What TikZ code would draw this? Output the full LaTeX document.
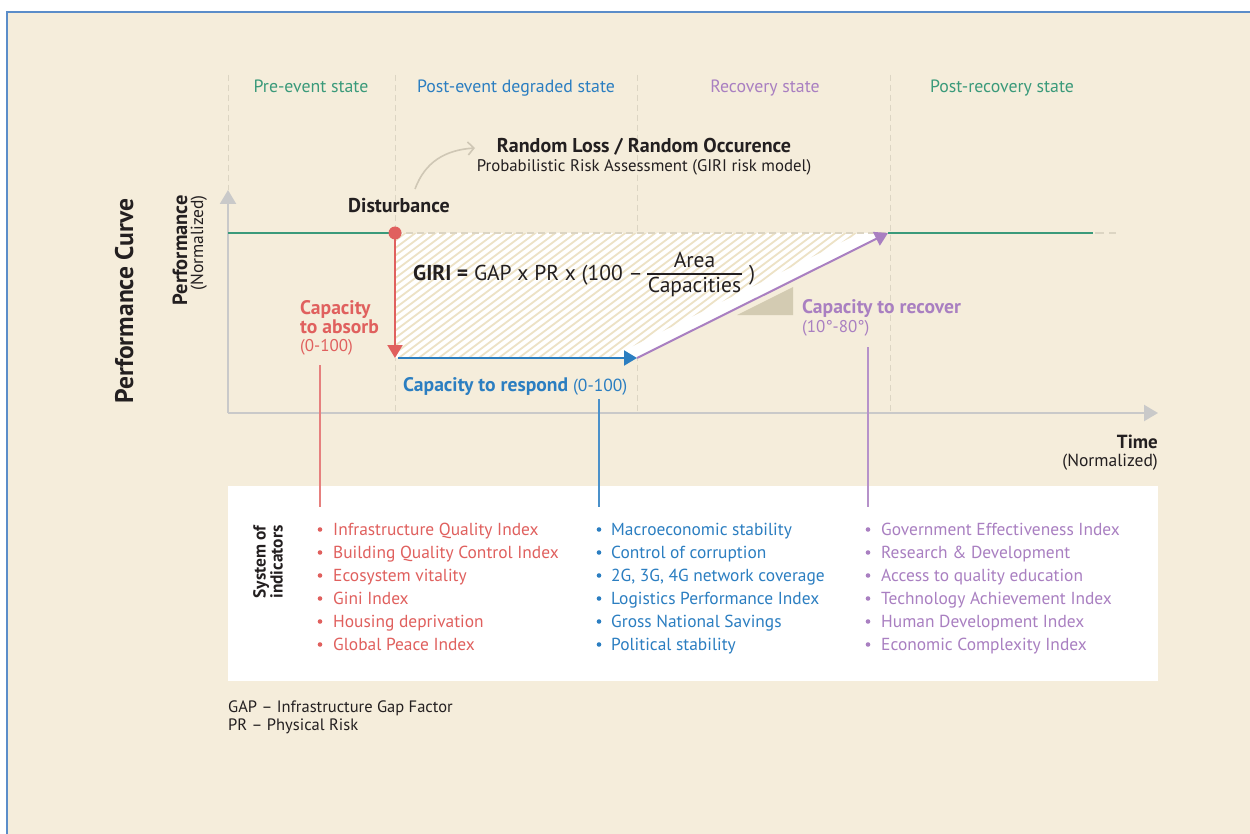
\documentclass[tikz,border=0pt]{standalone}
\usepackage{fontspec}
\setmainfont{PT Sans}
\usetikzlibrary{arrows.meta}
\definecolor{bg}{HTML}{F5EDDB}
\definecolor{frame}{HTML}{5B8DC9}
\definecolor{grn}{HTML}{3A9A7A}
\definecolor{blu}{HTML}{2B7EC1}
\definecolor{rd}{HTML}{E0605E}
\definecolor{pur}{HTML}{A97FC1}
\definecolor{axisc}{HTML}{C9C9C9}
\definecolor{dsh}{HTML}{DCD5C3}
\definecolor{txt}{HTML}{231F20}
\definecolor{hatchc}{HTML}{EDE2C6}
\definecolor{tric}{HTML}{D3CBB2}
\definecolor{curvec}{HTML}{CFC7B5}
\tikzset{
  phase/.style={anchor=base, font=\fontsize{17.8}{20}\selectfont},
  item/.style={anchor=base west, inner sep=0pt, font=\fontsize{17.4}{20}\selectfont},
  lbl/.style={anchor=base west, inner sep=0pt, font=\fontsize{19.6}{22}\selectfont\bfseries},
  sub/.style={anchor=base west, inner sep=0pt, font=\fontsize{17}{20}\selectfont},
  phasesep/.style={dsh, line width=1, dash pattern=on 6pt off 4pt},
  grnline/.style={grn, line width=2.5},
  leader/.style={line width=1.2},
  capa/.style={line width=2, -{Triangle[length=13pt,width=15pt]}},
  axisline/.style={axisc, line width=2.2, -{Triangle[length=14pt,width=16pt]}},
}
\begin{document}
\begin{tikzpicture}[x=1pt,y=-1pt]
\useasboundingbox (0,0) rectangle (1250,834);
\fill[white] (0,0) rectangle (1250,834);
\fill[bg] (7,12) rectangle (1250,834);
\draw[frame, line width=2.2] (7,834) -- (7,12) -- (1250,12);

% key points
\coordinate (O) at (228,413);
\coordinate (Ytop) at (228,190);
\coordinate (Xend) at (1158,413);
\coordinate (G0) at (228,233);
\coordinate (D) at (395,233);
\coordinate (A) at (395,358);
\coordinate (A2) at (398,358);
\coordinate (R) at (637,358);
\coordinate (F) at (888,233);
\coordinate (G1) at (1093,233);
\coordinate (G2) at (1116,233);

% phase separators
\draw[phasesep] (228,75) -- (228,190);
\draw[phasesep] (395,75) -- (395,413);
\draw[phasesep] (637,75) -- (637,413);
\draw[phasesep] (890,75) -- (890,413);

% phase labels
\node[phase, text=grn] (s1) at (311,93) {Pre-event state};
\node[phase, text=blu] (s2) at (516,93) {Post-event degraded state};
\node[phase, text=pur] (s3) at (765,93) {Recovery state};
\node[phase, text=grn] (s4) at (1002,93) {Post-recovery state};

% hatched area
\fill[white] (D) -- (F) -- (R) -- (A) -- cycle;
\begin{scope}
  \clip (395,233) -- (860,233) -- (609,358) -- (395,358) -- cycle;
  \foreach \k in {0,...,70}
    \draw[hatchc, line width=1.8] (190+\k*10,372) -- ++(200,-150);
\end{scope}
\draw[dsh, line width=1.2, dash pattern=on 7pt off 4pt] (D) -- (F);
\fill[tric] (737,315) -- (793,287) -- (793,315) -- cycle;

% axes
\draw[axisline] (O) -- (Ytop);
\draw[axisline] (O) -- (Xend);

% performance lines
\draw[grnline] (G0) -- (D);
\draw[grnline] (F) -- (G1);
\draw[dsh, line width=2.2, dash pattern=on 9pt off 5pt] (G1) ++(2,0) -- (G2);

% capacity arrows
\draw[capa, rd] (D) -- (A);
\draw[capa, blu] (A2) -- (R);
\draw[capa, pur] (R) -- (F);
\fill[rd] (D) circle (6.5);

% curved arrow
\coordinate (c0) at (415,189);
\coordinate (c1) at (475,148);
\draw[curvec, line width=1.6, -{Straight Barb[length=6pt,width=13pt]}] (c0) .. controls (425,162) and (445,150) .. (c1);

% top texts
\node[anchor=base, inner sep=0pt, font=\fontsize{20}{22}\selectfont\bfseries, text=txt] (rl) at (644,153) {Random Loss / Random Occurence};
\node[anchor=base, inner sep=0pt, font=\fontsize{16.8}{19}\selectfont, text=txt] (pra) at (644,172) {Probabilistic Risk Assessment (GIRI risk model)};
\node[anchor=base west, inner sep=0pt, font=\fontsize{20}{22}\selectfont\bfseries, text=txt] (dist) at (348,213) {Disturbance};

% formula
\node[anchor=base west, inner sep=0pt, font=\fontsize{21.5}{24}\selectfont, text=txt] (giri) at (413,281) {\textbf{GIRI =} GAP x PR x (100 –};
\node[anchor=base, inner sep=0pt, font=\fontsize{21.5}{24}\selectfont, text=txt] (num) at (694.5,268) {Area};
\node[anchor=base, inner sep=0pt, font=\fontsize{21.5}{24}\selectfont, text=txt] (den) at (694.5,293) {Capacities};
\draw[txt, line width=1.4] (647,274) -- (742,274);
\node[anchor=base west, inner sep=0pt, font=\fontsize{21.5}{24}\selectfont, text=txt] (cp) at (749,281) {)};

% capacity labels
\node[lbl, text=rd] (ab1) at (300,315) {Capacity};
\node[lbl, text=rd] (ab2) at (300,333) {to absorb};
\node[sub, text=rd] (ab3) at (300,351) {(0-100)};
\node[lbl, text=blu] (rs) at (403,391) {Capacity to respond \fontsize{17.5}{20}\selectfont\mdseries(0-100)};
\node[lbl, text=pur] (rc1) at (802,313) {Capacity to recover};
\node[sub, text=pur] (rc2) at (802,332) {(10°-80°)};

% axis labels
\node[anchor=base east, inner sep=0pt, font=\fontsize{19}{22}\selectfont\bfseries, text=txt] (time) at (1158,448) {Time};
\node[anchor=base east, inner sep=0pt, font=\fontsize{17.5}{20}\selectfont, text=txt] (timen) at (1158,466) {(Normalized)};
\node[rotate=90, anchor=base, inner sep=0pt, font=\fontsize{25.5}{28}\selectfont\bfseries, text=txt] (pc) at (133,301) {Performance Curve};
\node[rotate=90, anchor=base east, inner sep=0pt, font=\fontsize{20.5}{23}\selectfont\bfseries, text=txt] (perf) at (187,195) {Performance};
\node[rotate=90, anchor=base east, inner sep=0pt, font=\fontsize{17.5}{20}\selectfont, text=txt] (perfn) at (203,195) {(Normalized)};

% indicator box
\fill[white] (228,486) rectangle (1158,681);
\node[rotate=90, align=center, inner sep=0pt, font=\fontsize{17.4}{17}\selectfont\bfseries, text=txt] (soi) at (268,562) {System of\\indicators};

\coordinate (lr0) at (320,365);
\coordinate (lr1) at (320,507);
\coordinate (lb0) at (599,399);
\coordinate (lb1) at (599,507);
\coordinate (lp0) at (868,347);
\coordinate (lp1) at (868,507);
\draw[leader, rd!80] (lr0) -- (lr1);
\draw[leader, blu!85] (lb0) -- (lb1);
\draw[leader, pur!85] (lp0) -- (lp1);

\foreach \t [count=\i] in {Infrastructure Quality Index, Building Quality Control Index, Ecosystem vitality, Gini Index, Housing deprivation, Global Peace Index}{
  \node[item, text=rd] (r\i) at (333,512+23*\i) {\t};
  \fill[rd] (320,506.5+23*\i) circle (2.3);
}
\foreach \t [count=\i] in {Macroeconomic stability, Control of corruption, {2G, 3G, 4G network coverage}, Logistics Performance Index, Gross National Savings, Political stability}{
  \node[item, text=blu] (b\i) at (611,512+23*\i) {\t};
  \fill[blu] (599,506.5+23*\i) circle (2.3);
}
\foreach \t [count=\i] in {Government Effectiveness Index, Research \& Development, Access to quality education, Technology Achievement Index, Human Development Index, Economic Complexity Index}{
  \node[item, text=pur] (p\i) at (881,512+23*\i) {\t};
  \fill[pur] (868,506.5+23*\i) circle (2.3);
}

% footnotes
\node[anchor=base west, inner sep=0pt, font=\fontsize{16.5}{19}\selectfont, text=txt] (fn1) at (228,712) {GAP – Infrastructure Gap Factor};
\node[anchor=base west, inner sep=0pt, font=\fontsize{16.5}{19}\selectfont, text=txt] (fn2) at (228,730) {PR – Physical Risk};
\end{tikzpicture}
\end{document}
